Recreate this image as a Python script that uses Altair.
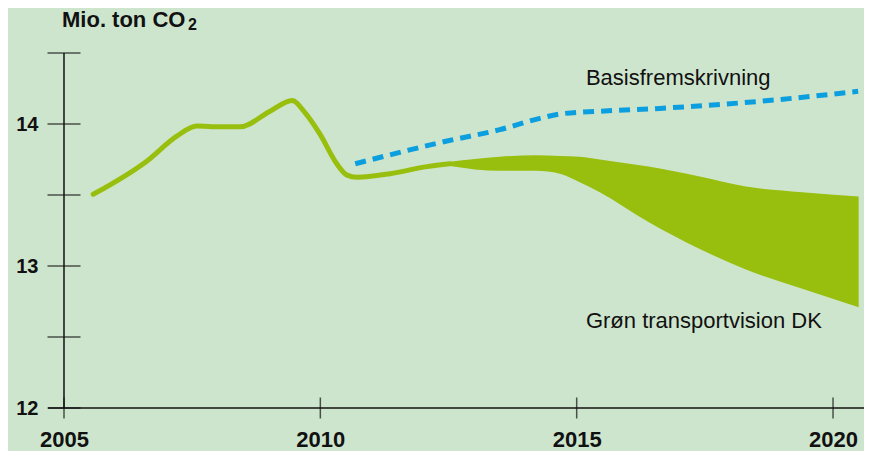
import altair as alt
import pandas as pd

# ---- data ----
hist_year = [2005.57, 2006.62, 2007.20, 2007.59, 2008.04, 2008.43, 2009.02, 2009.45,
             2009.70, 2009.99, 2010.32, 2010.52, 2010.71, 2011.36, 2012.08, 2012.53]
hist_val = [13.505, 13.74, 13.915, 13.986, 13.98, 13.98, 14.09, 14.165,
            14.08, 13.93, 13.72, 13.64, 13.625, 13.65, 13.70, 13.72]

band_year = [2012.53, 2013.5, 2014.2, 2014.67, 2015.06, 2015.45, 2016.4, 2017.4, 2018.3, 2019.4, 2020.5]
band_upper = [13.735, 13.77, 13.78, 13.775, 13.77, 13.75, 13.70, 13.63, 13.56, 13.52, 13.49]
band_lower = [13.705, 13.67, 13.67, 13.65, 13.59, 13.52, 13.31, 13.12, 12.975, 12.84, 12.71]

base_year = [2010.68, 2012.47, 2013.5, 2014.28, 2014.67, 2015.45, 2016.62, 2018.58, 2020.49]
base_val = [13.72, 13.88, 13.96, 14.04, 14.07, 14.09, 14.11, 14.16, 14.23]

x_ticks = [2005, 2010, 2015, 2020]
y_ticks = [12, 12.5, 13, 13.5, 14, 14.5]
y_labels = [12, 13, 14]

ann_text = ["Basisfremskrivning", "Grøn transportvision DK"]
ann_year = [2015.18, 2015.18]
ann_val = [14.276, 12.565]

title_text = "Mio. ton CO"
title_sub = "2"

# ---- styling ----
BG = "#cee5cd"
GREEN = "#98bf0e"
BLUE = "#0c9fe0"
INK = "#111111"
FONT = "Liberation Sans"
X_MIN, X_MAX = 2004.688, 2020.604
Y_MIN, Y_MAX = 12, 14.5

hist_df = pd.DataFrame({"year": hist_year, "v": hist_val})
band_df = pd.DataFrame({"year": band_year, "upper": band_upper, "lower": band_lower})
base_df = pd.DataFrame({"year": base_year, "v": base_val})
xt_df = pd.DataFrame({"year": x_ticks})
yt_df = pd.DataFrame({"v": y_ticks})
ann_df = pd.DataFrame({"year": ann_year, "v": ann_val, "t": ann_text})
one_df = pd.DataFrame({"a": [0]})

xs = alt.Scale(domain=[X_MIN, X_MAX], nice=False, zero=False)
ys = alt.Scale(domain=[Y_MIN, Y_MAX], nice=False, zero=False)

xax = alt.Axis(values=x_ticks, format="d", domain=False, ticks=False, grid=False,
               labelFontSize=22, labelFontWeight="bold", labelPadding=21, labelColor=INK,
               labelFont=FONT, labelFlush=False, labelOverlap=False, title=None)
yax = alt.Axis(values=y_labels, format="d", domain=False, ticks=False, grid=False,
               labelFontSize=20, labelFontWeight="bold", labelPadding=10, labelColor=INK,
               labelFont=FONT, labelOverlap=False, title=None)


def X(field):
    return alt.X(field, type="quantitative", scale=xs, axis=xax)


def Y(field):
    return alt.Y(field, type="quantitative", scale=ys, axis=yax)


def XD(v):
    return alt.XDatum(v, type="quantitative", scale=xs, axis=xax)


def YD(v):
    return alt.YDatum(v, type="quantitative", scale=ys, axis=yax)


band = alt.Chart(band_df).mark_area(color=GREEN, opacity=1, interpolate="monotone").encode(
    x=X("year"), y=Y("upper"), y2="lower")

hist = alt.Chart(hist_df).mark_line(color=GREEN, strokeWidth=5, interpolate="monotone",
                                    strokeCap="round", strokeJoin="round").encode(
    x=X("year"), y=Y("v"))

base = alt.Chart(base_df).mark_line(color=BLUE, strokeWidth=5, interpolate="monotone",
                                    strokeDash=[11, 7]).encode(
    x=X("year"), y=Y("v"))

y_axis_line = alt.Chart(one_df).mark_rule(color=INK, strokeWidth=1.5).encode(
    x=XD(2005), y=YD(Y_MIN), y2=alt.Y2Datum(Y_MAX))
x_axis_line = alt.Chart(one_df).mark_rule(color=INK, strokeWidth=1.5).encode(
    y=YD(Y_MIN), x=XD(X_MIN), x2=alt.X2Datum(X_MAX))

y_tick_marks = alt.Chart(yt_df).mark_tick(color=INK, orient="horizontal", size=33,
                                          thickness=1.5).encode(
    x=XD(2005), y=Y("v"))
x_tick_marks = alt.Chart(xt_df).mark_tick(color=INK, orient="vertical", size=21,
                                          thickness=1.5).encode(
    x=X("year"), y=YD(Y_MIN))

ann = alt.Chart(ann_df).mark_text(align="left", baseline="alphabetic", fontSize=22,
                                  font=FONT, color=INK).encode(
    x=X("year"), y=Y("v"), text="t:N")

title_main = alt.Chart(one_df).mark_text(align="left", baseline="alphabetic", fontSize=22,
                                         fontWeight="bold", font=FONT, color=INK).encode(
    x=alt.value(14), y=alt.value(-26), text=alt.value(title_text))
title_subscript = alt.Chart(one_df).mark_text(align="left", baseline="alphabetic", fontSize=16,
                                              fontWeight="bold", font=FONT, color=INK).encode(
    x=alt.value(140), y=alt.value(-23), text=alt.value(title_sub))

chart = alt.layer(
    band, hist, base, y_axis_line, x_axis_line, y_tick_marks, x_tick_marks, ann,
    title_main, title_subscript
).properties(
    width=816, height=355,
    padding={"left": 40, "top": 45, "right": 0, "bottom": 43},
    autosize=alt.AutoSizeParams(type="none"),
    background=BG,
).configure_view(stroke=None)

chart.save("out.html", embed_options={"renderer": "svg", "actions": False})
